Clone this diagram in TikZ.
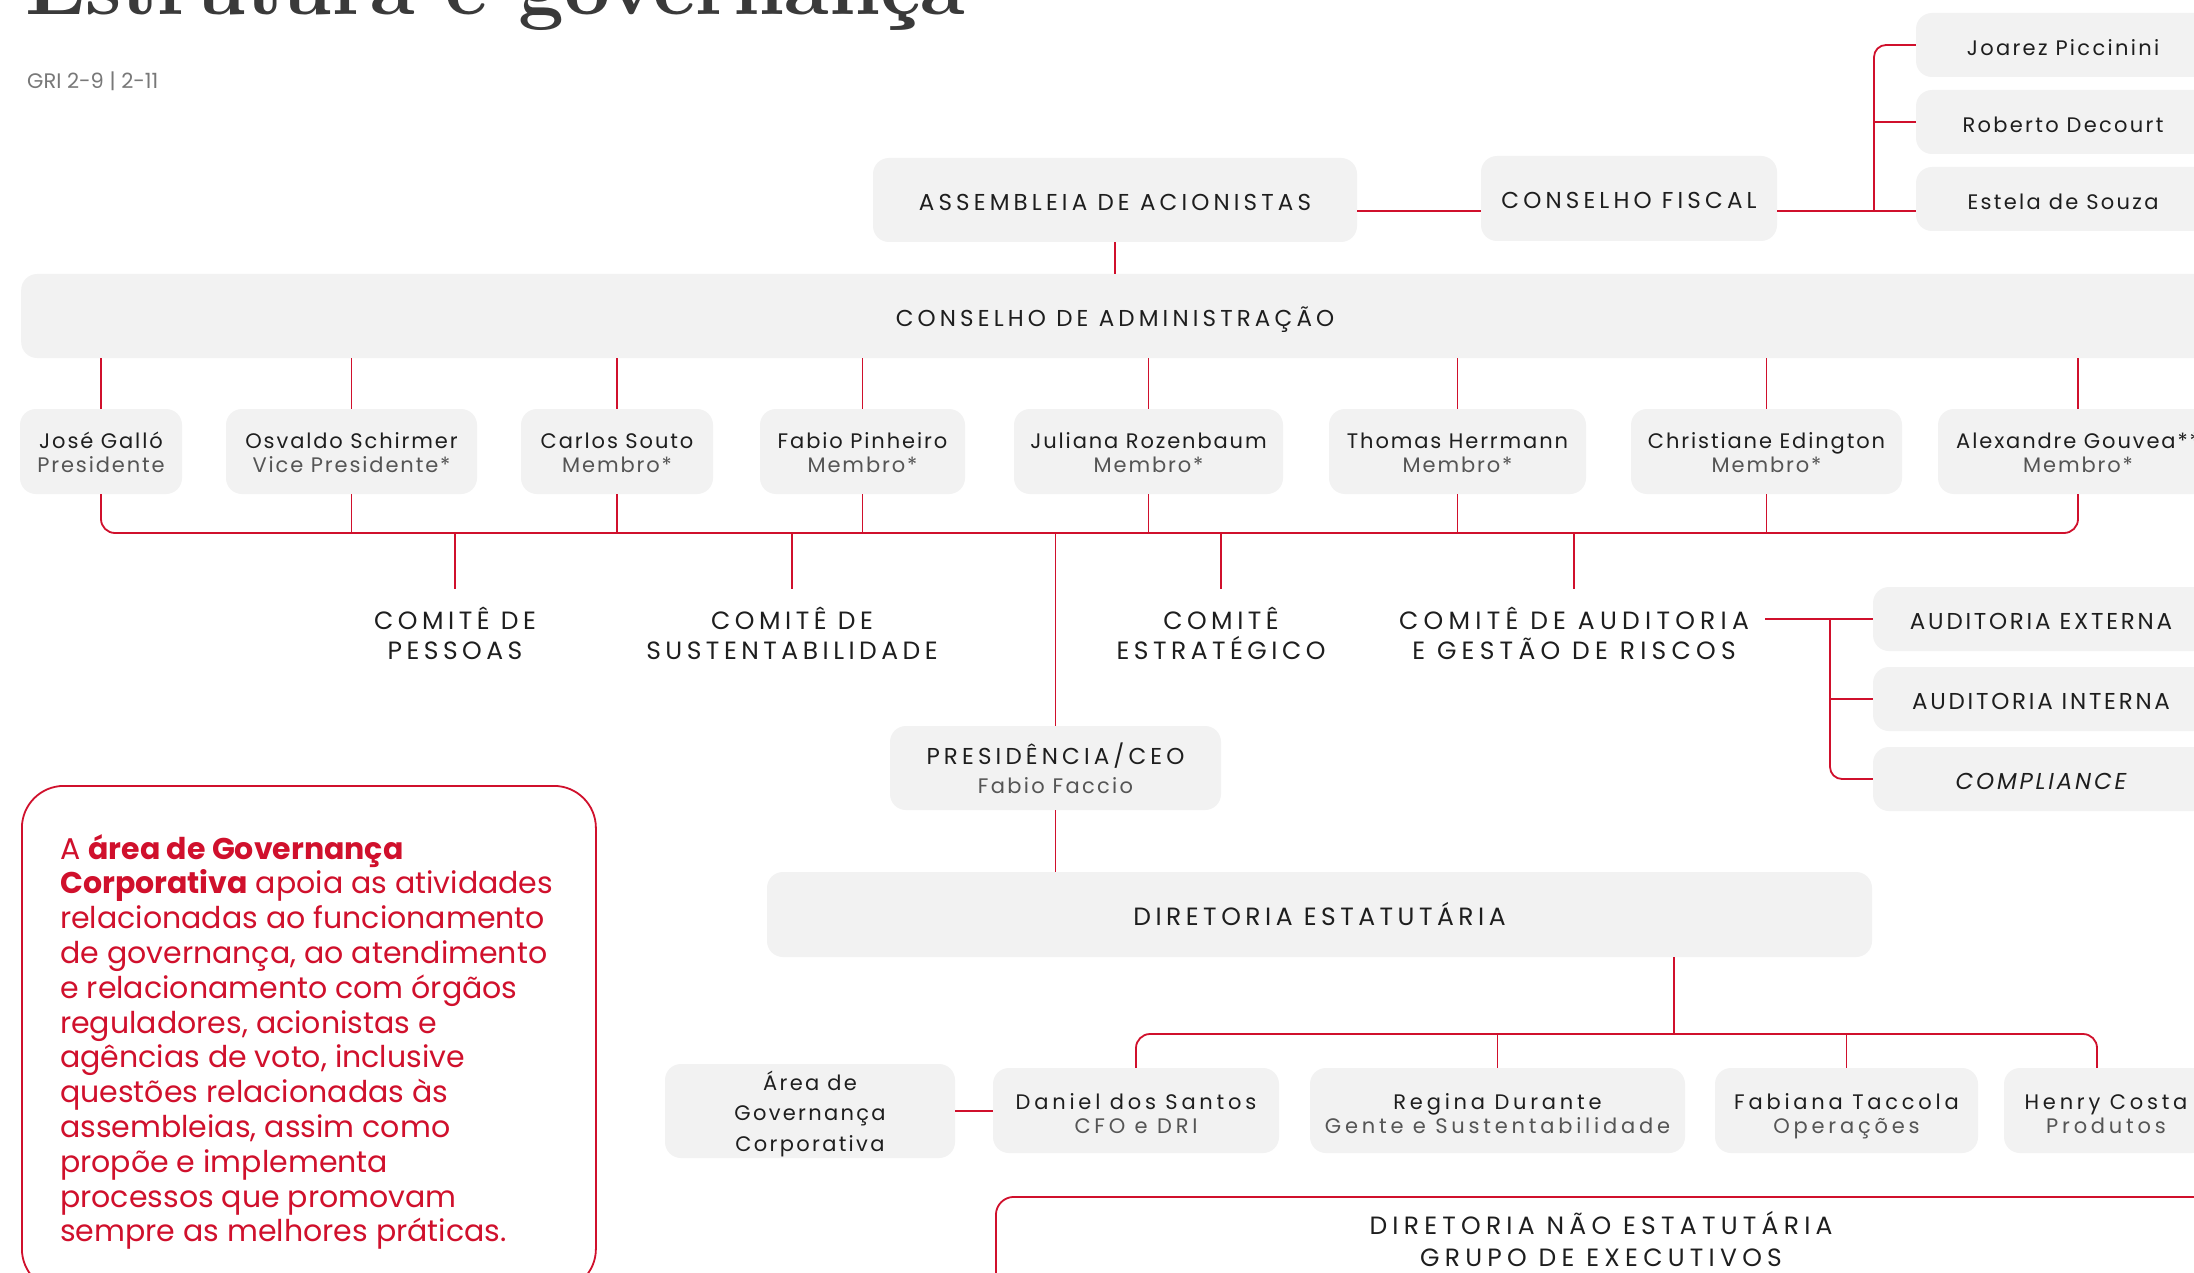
\documentclass[tikz,border=0pt]{standalone}
\usepackage{fontspec}
\usepackage{graphicx}
\newfontfamily\popR{Poppins}
\newfontfamily\popA[LetterSpace=18]{Poppins}
\newfontfamily\popW[LetterSpace=21]{Poppins}
\newfontfamily\popAud[LetterSpace=12]{Poppins}
\newfontfamily\popB[LetterSpace=9]{Poppins}
\newfontfamily\popC[LetterSpace=18]{Poppins}
\newfontfamily\popS[LetterSpace=11]{Poppins}
\usetikzlibrary{calc}
\definecolor{rd}{RGB}{208,16,44}
\definecolor{bx}{RGB}{242,242,242}
\definecolor{tx}{RGB}{30,30,30}
\definecolor{tl}{RGB}{85,85,85}
\definecolor{ttl}{RGB}{58,58,58}
\definecolor{gri}{RGB}{120,120,120}
\newcommand\twoline[3]{\rule{0pt}{#3}#1\\\textcolor{tl}{#2}\rule[-7pt]{0pt}{7pt}}
\tikzset{
  box/.style={fill=bx, draw=none, rounded corners=16pt, inner sep=0pt, align=center, text=tx},
  capf/.style={font=\popA\fontsize{23}{29}\selectfont, text=tx, align=center, text height=23pt, text depth=2pt},
  widef/.style={font=\popA\fontsize{25}{30}\selectfont, text=tx, align=center},
  nmB/.style={font=\popB\fontsize{21}{24}\selectfont},
  nmC/.style={font=\popC\fontsize{21}{23.5}\selectfont},
  ln/.style={draw=rd, line width=1.8pt},
  mem/.style={box, nmB, minimum height=85pt},
  low/.style={box, nmC, minimum height=85pt},
  side/.style={box, font=\popS\fontsize{21}{24}\selectfont, text height=23pt, text depth=2pt, minimum width=294pt, minimum height=64pt},
  aud/.style={box, font=\popAud\fontsize{23}{29}\selectfont, text height=23pt, text depth=2pt, minimum width=336pt, minimum height=64pt}
}
\begin{document}
\begin{tikzpicture}[x=1pt,y=-1pt]
\useasboundingbox (0,0) rectangle (2194,1273);
\fill[white] (0,0) rectangle (2194,1273);
\clip (0,0) rectangle (2194,1273);

% title and reference
\node[anchor=base west, inner sep=0pt, text=ttl] (title) at (25,15) {\resizebox{940pt}{!}{\bfseries Estrutura e governança}};
\node[anchor=west, inner sep=0pt, text=gri, font=\popR\fontsize{21}{24}\selectfont] (gri) at (27,81) {GRI 2-9 | 2-11};

% top level
\node[box, capf, minimum width=484pt, minimum height=84pt] (asm) at (1115,200) {ASSEMBLEIA DE ACIONISTAS};
\node[box, capf, minimum width=296pt, minimum height=85pt] (cf) at (1629,198.5) {CONSELHO FISCAL};
\node[side] (jp) at (2063,45) {Joarez Piccinini};
\node[side] (rdc) at (2063,122) {Roberto Decourt};
\node[side] (es) at (2063,199) {Estela de Souza};

% conselho de administracao
\node[box, minimum width=2250pt, minimum height=84pt, anchor=west] (ca) at (21,316) {};
\node[capf, inner sep=0pt] (cat) at (1115,316) {CONSELHO DE ADMINISTRAÇÃO};

% members
\node[mem, minimum width=162pt] (jg) at (101,451.5) {\twoline{José Galló}{Presidente}{25pt}};
\node[mem, minimum width=251pt] (os) at (351.5,451.5) {\twoline{Osvaldo Schirmer}{Vice Presidente*}{25pt}};
\node[mem, minimum width=192pt] (cs) at (617,451.5) {\twoline{Carlos Souto}{Membro*}{25pt}};
\node[mem, minimum width=205pt] (fp) at (862.5,451.5) {\twoline{Fabio Pinheiro}{Membro*}{25pt}};
\node[mem, minimum width=269pt] (jr) at (1148.5,451.5) {\twoline{Juliana Rozenbaum}{Membro*}{25pt}};
\node[mem, minimum width=257pt] (th) at (1457.5,451.5) {\twoline{Thomas Herrmann}{Membro*}{25pt}};
\node[mem, minimum width=271pt] (ce) at (1766.5,451.5) {\twoline{Christiane Edington}{Membro*}{25pt}};
\node[mem, minimum width=280pt] (ag) at (2078,451.5) {\twoline{Alexandre Gouvea**}{Membro*}{25pt}};

% committees
\node[widef] (cp) at (455,633.5) {COMITÊ DE\\PESSOAS};
\node[widef] (csu) at (792,633.5) {COMITÊ DE\\SUSTENTABILIDADE};
\node[widef] (cet) at (1221,633.5) {COMITÊ\\ESTRATÉGICO};
\node[widef, font=\popW\fontsize{25}{30}\selectfont, inner xsep=16pt] (cau) at (1574,633.5) {COMITÊ DE AUDITORIA\\E GESTÃO DE RISCOS};

\node[aud] (ext) at (2041,619) {AUDITORIA EXTERNA};
\node[aud] (int) at (2041,699) {AUDITORIA INTERNA};
\node[aud] (cmp) at (2041,779) {\itshape COMPLIANCE};

% CEO and directors
\node[box, font=\popA\fontsize{23}{29.5}\selectfont, minimum width=331pt, minimum height=84pt] (ceo) at (1055.5,768) {\rule{0pt}{29pt}PRESIDÊNCIA/CEO\\{\popS\fontsize{21}{29.5}\selectfont\color{tl}Fabio Faccio}\rule[-7pt]{0pt}{7pt}};
\node[box, widef, text height=24pt, text depth=2pt, minimum width=1105pt, minimum height=85pt] (de) at (1319.5,914.5) {DIRETORIA ESTATUTÁRIA};

\node[box, font=\popS\fontsize{21}{30.5}\selectfont, minimum width=290pt, minimum height=90pt] (area) at (810,1111) {\rule{0pt}{26pt}Área de\\Governança\\Corporativa\rule[-7pt]{0pt}{7pt}};
\node[low, minimum width=286pt] (dan) at (1136,1110.5) {\twoline{Daniel dos Santos}{CFO e DRI}{29pt}};
\node[low, minimum width=375pt] (reg) at (1497.5,1110.5) {\twoline{Regina Durante}{Gente e Sustentabilidade}{29pt}};
\node[low, minimum width=263pt] (fab) at (1846.5,1110.5) {\twoline{Fabiana Taccola}{Operações}{29pt}};
\node[low, minimum width=204pt] (hen) at (2106,1110.5) {\twoline{Henry Costa}{Produtos}{29pt}};

% non-statutory board
\node[draw=rd, line width=1.8pt, fill=white, rounded corners=18pt, minimum width=1400pt, minimum height=160pt, anchor=north west, inner sep=0pt] (dne) at (995,1196) {};
\node[widef, font=\popW\fontsize{25}{32}\selectfont] (dnet) at (1601,1239) {DIRETORIA NÃO ESTATUTÁRIA\\GRUPO DE EXECUTIVOS};

% info box
\node[draw=rd, line width=1.8pt, rounded corners=42pt, minimum width=574pt, minimum height=505pt, anchor=north west, inner sep=0pt] (info) at (21,785) {};
\node[anchor=north west, inner sep=0pt, align=left, text=rd, font=\popR\fontsize{30}{34.8}\selectfont] (para) at (60,834) {A \textbf{área de Governança}\\
\textbf{Corporativa} apoia as atividades\\
relacionadas ao funcionamento\\
de governança, ao atendimento\\
e relacionamento com órgãos\\
reguladores, acionistas e\\
agências de voto, inclusive\\
questões relacionadas às\\
assembleias, assim como\\
propõe e implementa\\
processos que promovam\\
sempre as melhores práticas.};

% connectors: top
\coordinate (fj) at (1874,211);
\draw[ln] (asm.east |- fj) -- (cf.west |- fj);
\draw[ln] (cf.east |- fj) -- (es.west |- fj);
\draw[ln, rounded corners=12pt] (fj) |- (jp.west);
\draw[ln] (fj |- rdc.west) -- (rdc.west);
\draw[ln] (asm.south) -- (asm.south |- ca.north);

% connectors: members
\foreach \m in {jg,os,cs,fp,jr,th,ce,ag} {
  \draw[ln] (\m.north |- ca.south) -- (\m.north);
}
\coordinate (bus) at (0,533);
\draw[ln, rounded corners=14pt] (jg.south) -- (jg.south |- bus) -- (ag.south |- bus) -- (ag.south);
\foreach \m in {os,cs,fp,jr,th,ce} {
  \draw[ln] (\m.south) -- (\m.south |- bus);
}
\coordinate (cend) at (0,589);
\foreach \m in {cp,csu,cet,cau} {
  \draw[ln] (\m.north |- bus) -- (\m.north |- cend);
}
\draw[ln] (ceo.north |- bus) -- (ceo.north);

% audit
\coordinate (av) at (1830,0);
\draw[ln] (cau.east |- ext.west) -- (ext.west);
\draw[ln, rounded corners=12pt] (av |- ext.west) |- (cmp.west);
\draw[ln] (av |- int.west) -- (int.west);

% directors
\draw[ln] (ceo.south) -- (ceo.south |- de.north);
\coordinate (dj) at (1674,1034);
\coordinate (hn) at ($(hen.north)+(-9,0)$);
\draw[ln] (de.south -| dj) -- (dj);
\draw[ln, rounded corners=14pt] (dan.north) -- (dan.north |- dj) -- (hn |- dj) -- (hn);
\draw[ln] (reg.north |- dj) -- (reg.north);
\draw[ln] (fab.north |- dj) -- (fab.north);
\draw[ln] (area.east) -- (area.east -| dan.west);
\end{tikzpicture}
\end{document}
